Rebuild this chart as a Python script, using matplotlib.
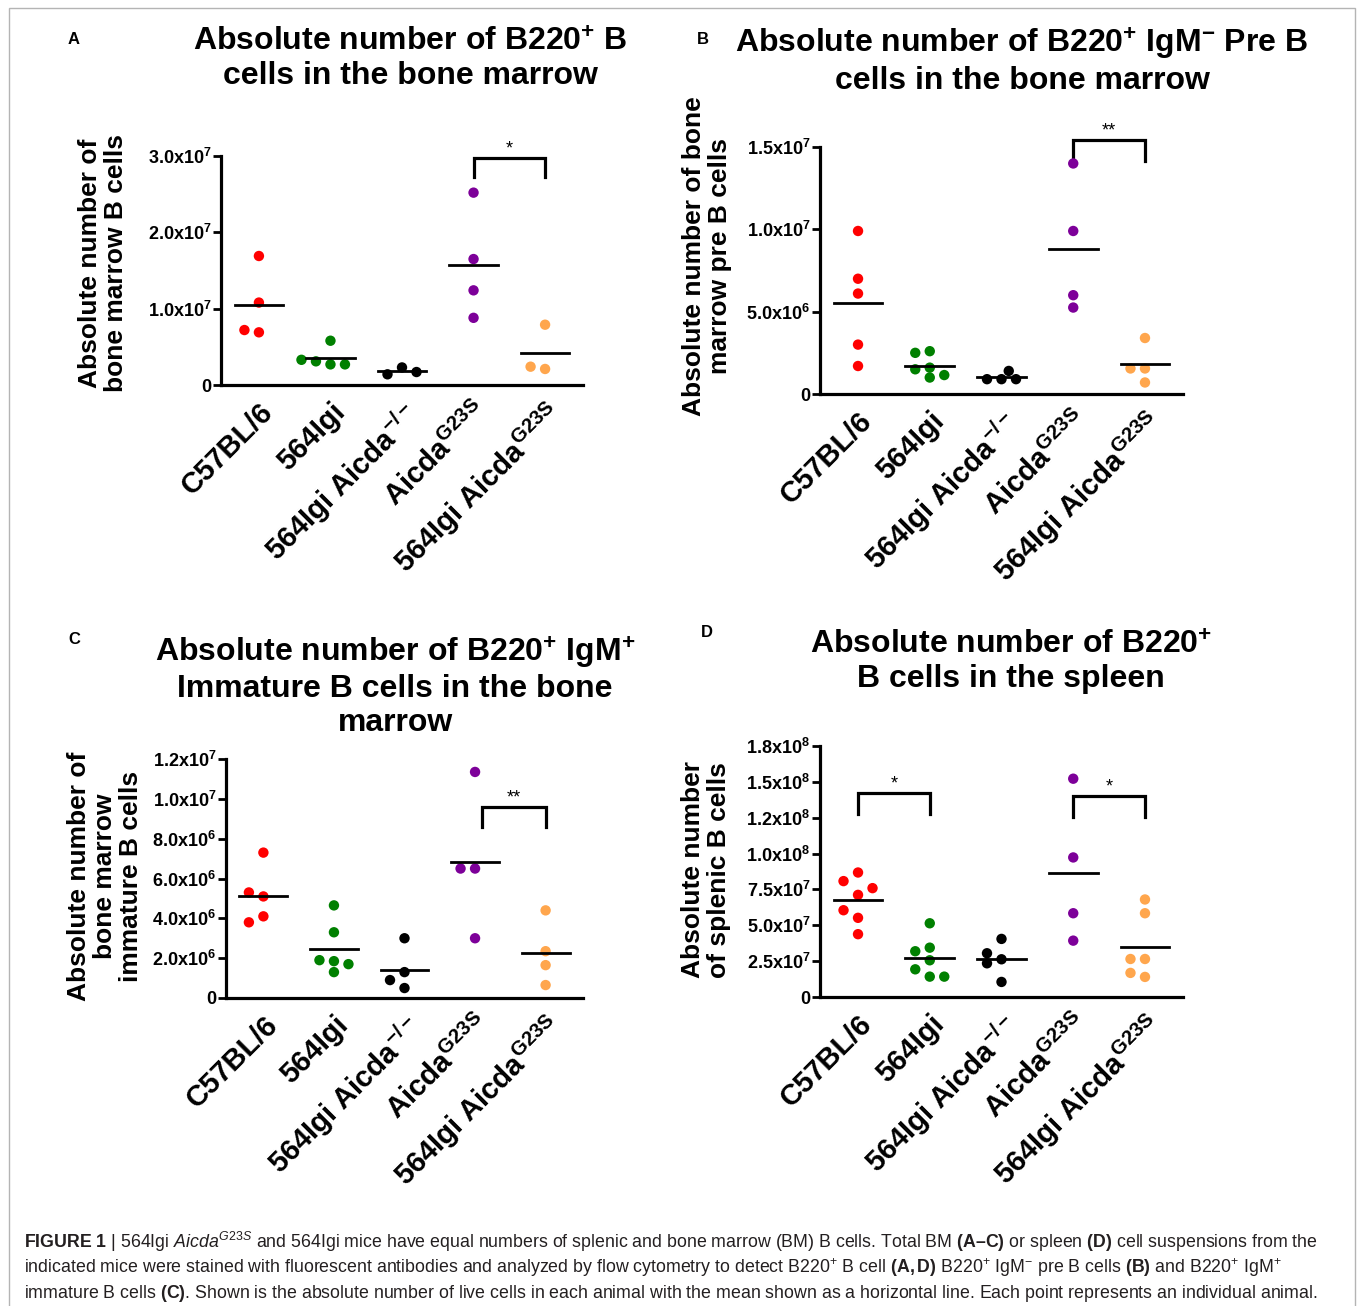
import numpy as np
import matplotlib
matplotlib.use('Agg')
import matplotlib.pyplot as plt
from matplotlib import font_manager

# groups shared by all four panels
groups = ['C57BL/6', '564Igi', '564Igi Aicda$^{-/-}$', 'Aicda$^{G23S}$', '564Igi Aicda$^{G23S}$']
colors = ['#ff0000', '#008000', '#000000', '#7d0099', '#ffa64d']

# A - B220+ B cells, bone marrow
a_vals = [[16.9e6, 10.8e6, 6.9e6, 7.2e6],
          [5.8e6, 2.7e6, 3.1e6, 2.7e6, 3.3e6],
          [2.3e6, 1.4e6, 1.7e6],
          [25.2e6, 16.5e6, 12.4e6, 8.8e6],
          [7.9e6, 2.1e6, 2.4e6]]
a_ticks = [0, 1e7, 2e7, 3e7]
a_ticklabels = ['0', '1.0x10$^{7}$', '2.0x10$^{7}$', '3.0x10$^{7}$']
a_sig = [(3, 4, '*', 2.98e7)]

# B - B220+ IgM- pre B cells, bone marrow
b_vals = [[9.9e6, 7.0e6, 6.1e6, 3.0e6, 1.7e6],
          [2.6e6, 2.5e6, 1.6e6, 1.5e6, 1.15e6, 1.0e6],
          [0.9e6, 0.9e6, 0.9e6, 1.4e6],
          [14.0e6, 9.9e6, 5.25e6, 6.0e6],
          [3.4e6, 1.55e6, 1.55e6, 0.7e6]]
b_ticks = [0, 5e6, 1e7, 1.5e7]
b_ticklabels = ['0', '5.0x10$^{6}$', '1.0x10$^{7}$', '1.5x10$^{7}$']
b_sig = [(3, 4, '**', 1.543e7)]

# C - B220+ IgM+ immature B cells, bone marrow
c_vals = [[7.3e6, 5.1e6, 5.3e6, 4.1e6, 3.8e6],
          [4.65e6, 3.3e6, 1.85e6, 1.9e6, 1.7e6, 1.3e6],
          [3.0e6, 1.3e6, 0.9e6, 0.5e6],
          [11.35e6, 6.5e6, 6.5e6, 3.0e6],
          [4.4e6, 2.35e6, 1.65e6, 0.65e6]]
c_ticks = [0, 2e6, 4e6, 6e6, 8e6, 1e7, 1.2e7]
c_ticklabels = ['0', '2.0x10$^{6}$', '4.0x10$^{6}$', '6.0x10$^{6}$',
                '8.0x10$^{6}$', '1.0x10$^{7}$', '1.2x10$^{7}$']
c_sig = [(3.1, 4, '**', 9.6e6)]

# D - B220+ B cells, spleen
d_vals = [[86.8e6, 71.2e6, 80.8e6, 75.9e6, 55.2e6, 60.5e6, 43.8e6],
          [51.4e6, 25.6e6, 31.9e6, 34.4e6, 19.3e6, 14.2e6, 14.2e6],
          [40.5e6, 26.3e6, 23.5e6, 30.5e6, 10.5e6],
          [152.2e6, 97.3e6, 58.4e6, 39.3e6],
          [58.4e6, 68.0e6, 26.5e6, 26.5e6, 14.0e6, 16.8e6]]
d_ticks = [0, 2.5e7, 5e7, 7.5e7, 1e8, 1.25e8, 1.5e8, 1.75e8]
d_ticklabels = ['0', '2.5x10$^{7}$', '5.0x10$^{7}$', '7.5x10$^{7}$',
                '1.0x10$^{8}$', '1.2x10$^{8}$', '1.5x10$^{8}$', '1.8x10$^{8}$']
d_sig = [(0, 1, '*', 1.424e8), (3, 4, '*', 1.403e8)]

titles = ['Absolute number of B220$^{+}$ B\ncells in the bone marrow',
          'Absolute number of B220$^{+}$ IgM$^{-}$ Pre B\ncells in the bone marrow',
          'Absolute number of B220$^{+}$ IgM$^{+}$\nImmature B cells in the bone\nmarrow',
          'Absolute number of B220$^{+}$\nB cells in the spleen']
ylabels = ['Absolute number of\nbone marrow B cells',
           'Absolute number of bone\nmarrow pre B cells',
           'Absolute number of\nbone marrow\nimmature B cells',
           'Absolute number\nof splenic B cells']
letters = ['A', 'B', 'C', 'D']

caption = [r'$\mathbf{FIGURE\ 1}$ | 564Igi $\mathit{Aicda}^{\mathit{G23S}}$ and 564Igi mice have equal numbers of splenic and bone marrow (BM) B cells. Total BM $\mathbf{(A–C)}$ or spleen $\mathbf{(D)}$ cell suspensions from the',
           r'indicated mice were stained with fluorescent antibodies and analyzed by flow cytometry to detect B220$^{+}$ B cell $\mathbf{(A,D)}$ B220$^{+}$ IgM$^{-}$ pre B cells $\mathbf{(B)}$ and B220$^{+}$ IgM$^{+}$',
           r'immature B cells $\mathbf{(C)}$. Shown is the absolute number of live cells in each animal with the mean shown as a horizontal line. Each point represents an individual animal.']


def has_font(name):
    try:
        font_manager.findfont(name, fallback_to_default=False)
        return True
    except ValueError:
        return False


cap_font = 'Liberation Sans Narrow' if has_font('Liberation Sans Narrow') else 'Liberation Sans'

plt.rcParams['font.family'] = ['Liberation Sans', 'DejaVu Sans']
plt.rcParams['mathtext.fontset'] = 'custom'
plt.rcParams['mathtext.default'] = 'regular'
plt.rcParams['mathtext.rm'] = cap_font
plt.rcParams['mathtext.it'] = cap_font + ':italic'
plt.rcParams['mathtext.bf'] = cap_font + ':bold'

W, H = 1358, 1306
fig = plt.figure(figsize=(W / 100, H / 100), dpi=100)


def px(x, y):
    return x / W, 1 - y / H


def swarm(ax, xc, vals, diam=9.2, step=14.5):
    # simple beeswarm in pixel space, like the prism scatter layout
    pts = ax.transData.transform(np.column_stack([np.full(len(vals), xc), vals]))
    placed = []
    for x0, y0 in pts:
        for k in [0, -1, 1, 0.5, -0.5, -1.5, 1.5, -2, 2, -3, 3]:
            x = x0 + k * step
            if all(np.hypot(x - qx, y0 - qy) >= diam for qx, qy in placed):
                break
        placed.append((x, y0))
    placed = np.array(placed)
    return ax.transData.inverted().transform(placed)[:, 0]


# left, top, right, bottom of each plot area in pixels
boxes = [(221, 156, 583, 385), (820, 147, 1183, 394),
         (226, 759, 583, 998), (820, 746, 1183, 997)]
title_pos = [(410, 59), (1022, 61), (395, 686), (1011, 662)]
ylabel_pos = [(103, 263), (707, 256), (105, 876), (706, 870)]
letter_pos = [(74, 40), (703, 40), (74, 640), (707, 633)]

panels = [(a_vals, a_ticks, a_ticklabels, a_sig),
          (b_vals, b_ticks, b_ticklabels, b_sig),
          (c_vals, c_ticks, c_ticklabels, c_sig),
          (d_vals, d_ticks, d_ticklabels, d_sig)]

for i, (vals, ticks, ticklabels, sig) in enumerate(panels):
    l, t, r, b = boxes[i]
    ax = fig.add_axes([l / W, 1 - b / H, (r - l) / W, (b - t) / H])
    ax.set_xlim(-0.53, 4.53)
    ax.set_ylim(0, ticks[-1])
    for s in ['top', 'right']:
        ax.spines[s].set_visible(False)
    for s in ['left', 'bottom']:
        ax.spines[s].set_linewidth(2.3)
    ax.set_yticks(ticks)
    ax.set_yticklabels(ticklabels, fontsize=13, fontweight='bold')
    ax.tick_params(axis='y', length=6, width=2, pad=1)
    ax.set_xticks(range(len(groups)))
    ax.set_xticklabels(groups, rotation=45, ha='right', rotation_mode='anchor',
                       fontsize=21, fontweight='bold')
    ax.tick_params(axis='x', length=0, pad=9)

    for g, gv in enumerate(vals):
        xs = swarm(ax, g, gv)
        ax.scatter(xs, gv, s=56, color=colors[g], edgecolors='none', zorder=3, clip_on=False)
        m = np.mean(gv)
        ax.plot([g - 0.34, g + 0.34], [m, m], color='black', lw=2, zorder=4)

    # significance brackets
    drop = 0.085 * ticks[-1]
    for g1, g2, lab, top in sig:
        ax.plot([g1, g1, g2, g2], [top - drop, top, top, top - drop], color='black',
                lw=2.3, clip_on=False, solid_joinstyle='miter')
        ax.text((g1 + g2) / 2, top, lab, ha='center', va='bottom', fontsize=13, clip_on=False)

    fig.text(*px(*title_pos[i]), titles[i], ha='center', va='center', fontsize=23,
             fontweight='bold', linespacing=1.15)
    fig.text(*px(*ylabel_pos[i]), ylabels[i], ha='center', va='center', rotation=90,
             fontsize=19, fontweight='bold', linespacing=1.1)
    fig.text(*px(*letter_pos[i]), letters[i], ha='center', va='center', fontsize=12,
             fontweight='bold')

# caption
for k, line in enumerate(caption):
    fig.text(*px(24, 1242 + k * 25.5), line, ha='left', va='center', fontsize=12.8,
             family=[cap_font, 'DejaVu Sans'], color='#231f20')

fig.add_artist(plt.Rectangle((9 / W, -0.01), (1355 - 9) / W, 1 - 8 / H + 0.01,
                             transform=fig.transFigure, fill=False, ec='#b4b4b4', lw=1))

fig.savefig('out.png', dpi=100)
